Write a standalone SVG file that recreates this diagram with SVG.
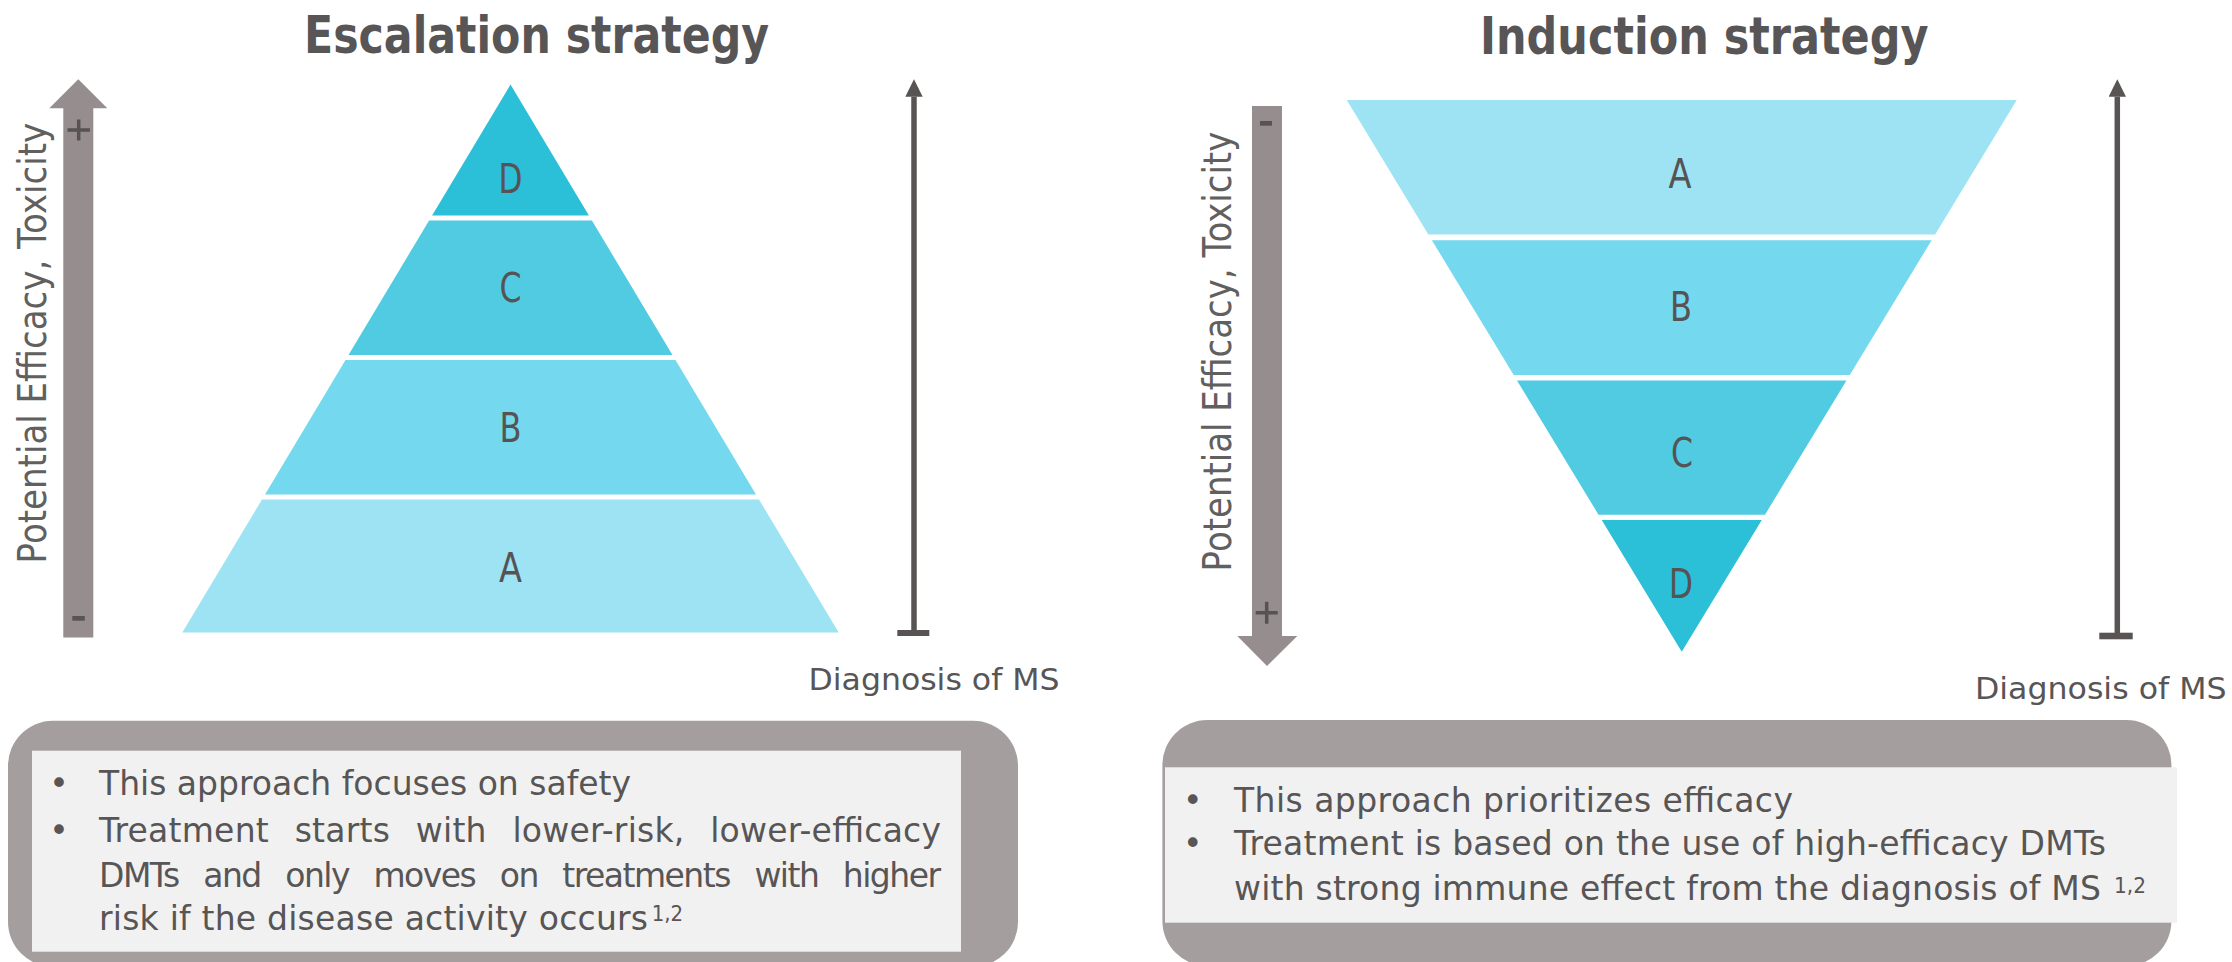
<svg xmlns="http://www.w3.org/2000/svg" width="2232" height="962" viewBox="0 0 2232 962">
  <style>
    .bg { fill: #ffffff; }
    .title { font-family: "DejaVu Sans", "Liberation Sans", sans-serif; font-weight: bold; font-size: 51px; fill: #575555; }
    .tier { font-family: "DejaVu Sans", "Liberation Sans", sans-serif; font-size: 40px; fill: #555353; }
    .axis-label { font-family: "DejaVu Sans", "Liberation Sans", sans-serif; font-size: 39px; fill: #625f5f; }
    .note { font-family: "DejaVu Sans", "Liberation Sans", sans-serif; font-size: 30px; fill: #575555; }
    .body { font-family: "DejaVu Sans", "Liberation Sans", sans-serif; font-size: 33px; fill: #575555; }
    .sup { font-family: "DejaVu Sans", "Liberation Sans", sans-serif; font-size: 22px; fill: #575555; }
    .t1 { fill: #9de3f3; }
    .t2 { fill: #74d8ee; }
    .t3 { fill: #50cbe2; }
    .t4 { fill: #2cbfd8; }
    .wide-arrow { fill: #968d8e; }
    .sign { stroke: #575353; stroke-width: 3.5; fill: none; }
    .time-line { stroke: #595454; stroke-width: 5.5; fill: none; }
    .bar { fill: #595454; }
    .panel-outer { fill: #a59e9e; }
    .panel-inner { fill: #f1f1f1; }
  </style>
  <defs>
    <marker id="head" viewBox="0 0 18 18" refX="0" refY="9" markerWidth="17.4" markerHeight="17.4" markerUnits="userSpaceOnUse" orient="auto">
      <path d="M0,0 L18,9 L0,18 z" fill="#595454"/>
    </marker>
  </defs>

  <rect class="bg" x="0" y="0" width="2232" height="962"/>

  <!-- headings -->
  <g id="title-escalation">
    <text class="title" x="304" y="52.7" textLength="465" lengthAdjust="spacingAndGlyphs">Escalation strategy</text>
  </g>
  <g id="title-induction">
    <text class="title" x="1480" y="53.6" textLength="448.5" lengthAdjust="spacingAndGlyphs">Induction strategy</text>
  </g>

  <!-- escalation pyramid: one triangle cut into four tiers -->
  <g id="esc-tier-d">
    <polygon class="t4" points="510.5,84.6 588.9,215.5 432.1,215.5"/>
    <text class="tier" x="498.5" y="193" textLength="24" lengthAdjust="spacingAndGlyphs">D</text>
  </g>
  <g id="esc-tier-c">
    <polygon class="t3" points="429.1,220.5 591.9,220.5 672.5,355 348.5,355"/>
    <text class="tier" x="499.5" y="301.5" textLength="22" lengthAdjust="spacingAndGlyphs">C</text>
  </g>
  <g id="esc-tier-b">
    <polygon class="t2" points="345.5,360 675.5,360 756,494.5 265,494.5"/>
    <text class="tier" x="499.5" y="441.5" textLength="22" lengthAdjust="spacingAndGlyphs">B</text>
  </g>
  <g id="esc-tier-a">
    <polygon class="t1" points="262,499.5 759,499.5 838.7,632.5 182.3,632.5"/>
    <text class="tier" x="499" y="582" textLength="23" lengthAdjust="spacingAndGlyphs">A</text>
  </g>

  <!-- induction pyramid: inverted triangle cut into four tiers -->
  <g id="ind-tier-a">
    <polygon class="t1" points="1346.75,100 2016.75,100 1935.15,234.4 1428.35,234.4"/>
    <text class="tier" x="1668.5" y="187.5" textLength="23" lengthAdjust="spacingAndGlyphs">A</text>
  </g>
  <g id="ind-tier-b">
    <polygon class="t2" points="1431.85,240.2 1931.65,240.2 1849.8,375 1513.7,375"/>
    <text class="tier" x="1670" y="320.5" textLength="22" lengthAdjust="spacingAndGlyphs">B</text>
  </g>
  <g id="ind-tier-c">
    <polygon class="t3" points="1517,380.4 1846.5,380.4 1765,514.7 1598.5,514.7"/>
    <text class="tier" x="1671" y="466.5" textLength="22" lengthAdjust="spacingAndGlyphs">C</text>
  </g>
  <g id="ind-tier-d">
    <polygon class="t4" points="1601.7,520 1761.8,520 1681.75,651.8"/>
    <text class="tier" x="1669" y="598" textLength="24" lengthAdjust="spacingAndGlyphs">D</text>
  </g>

  <!-- axis labels -->
  <g id="esc-axis-label">
    <text class="axis-label" transform="translate(46,563.4) rotate(-90)" x="0" y="0" textLength="440.6" lengthAdjust="spacingAndGlyphs">Potential Efficacy, Toxicity</text>
  </g>
  <g id="ind-axis-label">
    <text class="axis-label" transform="translate(1231.4,571.4) rotate(-90)" x="0" y="0" textLength="439.7" lengthAdjust="spacingAndGlyphs">Potential Efficacy, Toxicity</text>
  </g>

  <g id="esc-time-label">
    <text class="note" x="808.5" y="690" textLength="251" lengthAdjust="spacingAndGlyphs">Diagnosis of MS</text>
  </g>
  <g id="ind-time-label">
    <text class="note" x="1975" y="699" textLength="251.5" lengthAdjust="spacingAndGlyphs">Diagnosis of MS</text>
  </g>

  <!-- arrows and time axes -->
  <g id="connectors">
    <!-- escalation: broad arrow pointing up -->
    <polygon class="wide-arrow" points="78.3,79.3 107.3,108.3 93.3,108.3 93.3,637.5 63.3,637.5 63.3,108.3 49.3,108.3"/>
    <path class="sign" d="M67.5,130 H90 M78.7,119.5 V140.5"/>
    <rect class="bar" x="72.3" y="616" width="12.5" height="4.7"/>

    <!-- induction: broad arrow pointing down -->
    <polygon class="wide-arrow" points="1252,106 1282,106 1282,636 1297.3,636 1267,666 1237.3,636 1252,636"/>
    <rect class="bar" x="1260" y="121" width="12" height="4.7"/>
    <path class="sign" d="M1255.7,612.7 H1277.7 M1266.7,601.7 V623.7"/>

    <!-- time axes from diagnosis upward -->
    <line class="time-line" x1="914" y1="633" x2="914" y2="96.7" marker-end="url(#head)"/>
    <rect class="bar" x="897.3" y="630" width="32" height="6"/>

    <line class="time-line" x1="2117.3" y1="636" x2="2117.3" y2="96.7" marker-end="url(#head)"/>
    <rect class="bar" x="2099.3" y="632.7" width="33.4" height="6.6"/>
  </g>

  <!-- escalation summary panel -->
  <g id="esc-summary">
    <rect class="panel-outer" x="8" y="720.7" width="1010" height="246" rx="45" ry="45"/>
    <rect class="panel-inner" x="32" y="750.7" width="929" height="201"/>
    <text class="body" x="59" y="795" text-anchor="middle">•</text>
    <text class="body" x="59" y="841.5" text-anchor="middle">•</text>
    <text class="body" x="99" y="795" textLength="532" lengthAdjust="spacing">This approach focuses on safety</text>
    <text class="body" x="99" y="841.5" word-spacing="15" textLength="842" lengthAdjust="spacing">Treatment starts with lower-risk, lower-efficacy</text>
    <text class="body" x="99" y="886.5" word-spacing="15.6" textLength="842" lengthAdjust="spacing">DMTs and only moves on treatments with higher</text>
    <text class="body" x="99" y="930" textLength="549" lengthAdjust="spacing">risk if the disease activity occurs</text>
    <text class="sup" x="651.7" y="920.7" textLength="31.5" lengthAdjust="spacingAndGlyphs">1,2</text>
  </g>

  <!-- induction summary panel -->
  <g id="ind-summary">
    <rect class="panel-outer" x="1162.4" y="720" width="1009" height="246" rx="45" ry="45"/>
    <rect class="panel-inner" x="1165" y="767.3" width="1012" height="155.4"/>
    <text class="body" x="1192.8" y="811.7" text-anchor="middle">•</text>
    <text class="body" x="1192.8" y="855" text-anchor="middle">•</text>
    <text class="body" x="1234" y="811.7" textLength="559" lengthAdjust="spacing">This approach prioritizes efficacy</text>
    <text class="body" x="1234" y="855" textLength="872" lengthAdjust="spacing">Treatment is based on the use of high-efficacy DMTs</text>
    <text class="body" x="1234" y="900" textLength="867" lengthAdjust="spacing">with strong immune effect from the diagnosis of MS</text>
    <text class="sup" x="2114" y="893" textLength="32" lengthAdjust="spacingAndGlyphs">1,2</text>
  </g>
</svg>
